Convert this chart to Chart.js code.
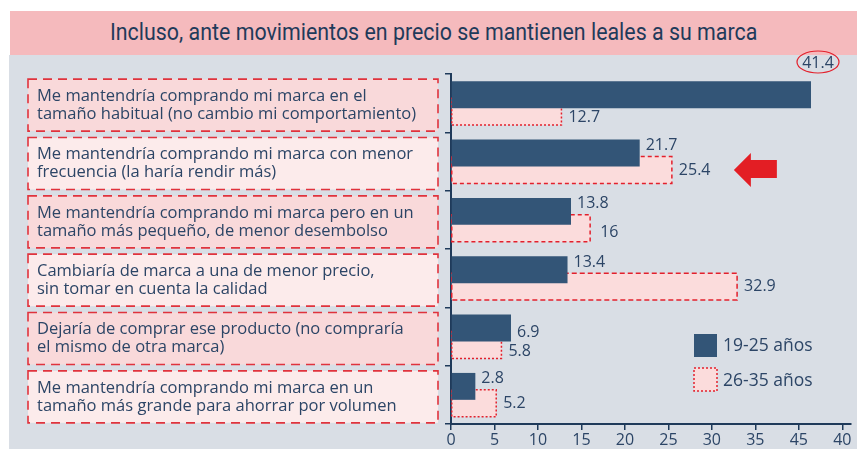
<!DOCTYPE html>
<html>
<head>
<meta charset="utf-8">
<script src="https://cdn.jsdelivr.net/npm/chart.js@4"></script>
<style>
  body { margin: 0; background: #fff; }
  #wrap { position: relative; width: 857px; height: 449px; overflow: hidden; }
  #band { position: absolute; left: 10px; top: 11px; width: 847px; height: 44px; background: #f5babd; }
  #title { position: absolute; left: 10px; top: 11px; width: 847px; height: 44px; line-height: 44px;
           text-align: center; color: #1f3a5a; font-family: "Roboto", sans-serif; font-size: 23px;
           transform: scaleX(0.93); transform-origin: 426px 0; }
  #panel { position: absolute; left: 9px; top: 55px; width: 848px; height: 394px; background: #d9dee5; }
  #chart { position: absolute; left: 0; top: 0; }
</style>
</head>
<body>
<div id="wrap">
  <div id="band"></div>
  <div id="title">Incluso, ante movimientos en precio se mantienen leales a su marca</div>
  <div id="panel"></div>
  <canvas id="chart" width="857" height="449"></canvas>
</div>
<script>
// Data
const categories = [
  ["Me mantendría comprando mi marca en el", "tamaño habitual (no cambio mi comportamiento)"],
  ["Me mantendría comprando mi marca con menor", "frecuencia (la haría rendir más)"],
  ["Me mantendría comprando mi marca pero en un", "tamaño más pequeño, de menor desembolso"],
  ["Cambiaría de marca a una de menor precio,", "sin tomar en cuenta la calidad"],
  ["Dejaría de comprar ese producto (no compraría", "el mismo de otra marca)"],
  ["Me mantendría comprando mi marca en un", "tamaño más grande para ahorrar por volumen"]
];
const young = [41.4, 21.7, 13.8, 13.4, 6.9, 2.8];
const older = [12.7, 25.4, 16, 32.9, 5.8, 5.2];
const seriesNames = ["19-25 años", "26-35 años"];
const tickLabels = ["0", "5", "10", "15", "20", "25", "30", "35", "45", "40"];

const NAVY = "#1f3a5a";
const TEXT = "#2c4566";
const DARK = "#335577";
const PINK = "#fbdcdc";
const RED = "#e3202c";
const FONT = "'Open Sans', Lato, sans-serif";

// dash style of each pink bar outline
const pinkDash = [[2, 2], [4, 3], [4, 3], [5, 3], [2, 2], [2, 2]];

// Label boxes, dashed outlines, value labels, arrow and legend
const boxPlugin = {
  id: "boxes",
  beforeDatasetsDraw(chart) {
    const ctx = chart.ctx;
    const y = chart.scales.y;
    ctx.save();
    categories.forEach((lines, i) => {
      const cy = y.getPixelForValue(i) + 2;
      const top = cy - 26, h = 52;
      ctx.fillStyle = i % 2 === 0 ? "#f9d9da" : "#fcebeb";
      ctx.fillRect(28, top, 410, h);
      ctx.setLineDash([9, 6]);
      ctx.lineWidth = 1.6;
      ctx.strokeStyle = "#e0333d";
      ctx.strokeRect(28, top, 410, h);
      ctx.setLineDash([]);
      ctx.fillStyle = TEXT;
      ctx.font = "16.5px " + FONT;
      ctx.textBaseline = "middle";
      ctx.fillText(lines[0], 37, cy - 9);
      ctx.fillText(lines[1], 37, cy + 9);
    });
    ctx.restore();
  },
  afterDatasetDraw(chart, args) {
    if (args.index !== 1) return;
    const ctx = chart.ctx;
    ctx.save();
    ctx.strokeStyle = RED;
    ctx.lineWidth = 1.5;
    args.meta.data.forEach((el, i) => {
      const p = el.getProps(["x", "y", "base", "height"], true);
      ctx.setLineDash(pinkDash[i]);
      ctx.strokeRect(p.base, p.y - p.height / 2, p.x - p.base, p.height);
    });
    ctx.restore();
  },
  afterDatasetsDraw(chart) {
    const ctx = chart.ctx;
    const area = chart.chartArea;
    ctx.save();
    ctx.font = "16px " + FONT;
    ctx.fillStyle = TEXT;
    ctx.textBaseline = "middle";

    // dark bar values
    chart.getDatasetMeta(0).data.forEach((el, i) => {
      const p = el.getProps(["x", "y", "height"], true);
      if (i === 0) {
        const cx = p.x + 7, cy = area.top - 12;
        ctx.textAlign = "center";
        ctx.fillText(young[i], cx, cy + 1);
        ctx.beginPath();
        ctx.ellipse(cx, cy, 21, 11, 0, 0, Math.PI * 2);
        ctx.strokeStyle = RED;
        ctx.lineWidth = 1.2;
        ctx.stroke();
        ctx.textAlign = "left";
      } else {
        const dy = i === 4 ? 4 : -p.height / 2 + 6;
        ctx.fillText(young[i], p.x + 6, p.y + dy);
      }
    });
    // pink bar values
    chart.getDatasetMeta(1).data.forEach((el, i) => {
      const p = el.getProps(["x", "y"], true);
      const dy = (i === 0 || i === 4) ? 6 : (i === 2 ? 4 : 0);
      ctx.fillText(older[i], p.x + (i === 2 ? 10 : 7), p.y + dy);
    });

    // red arrow next to second category
    const a = chart.getDatasetMeta(1).data[1].getProps(["x", "y"], true);
    const tx = a.x + 62, ty = a.y;
    ctx.fillStyle = "#e31e24";
    ctx.beginPath();
    ctx.moveTo(tx, ty);
    ctx.lineTo(tx + 17, ty - 17);
    ctx.lineTo(tx + 17, ty - 10);
    ctx.lineTo(tx + 43, ty - 10);
    ctx.lineTo(tx + 43, ty + 8);
    ctx.lineTo(tx + 17, ty + 8);
    ctx.lineTo(tx + 17, ty + 17);
    ctx.closePath();
    ctx.fill();

    // legend
    const lx = 694;
    const ly = [334, 368];
    ctx.fillStyle = DARK;
    ctx.fillRect(lx, ly[0], 23, 23);
    ctx.fillStyle = PINK;
    ctx.fillRect(lx, ly[1], 23, 23);
    ctx.setLineDash([2, 2]);
    ctx.strokeStyle = RED;
    ctx.lineWidth = 1.5;
    ctx.strokeRect(lx, ly[1], 23, 23);
    ctx.setLineDash([]);
    ctx.font = "17.5px " + FONT;
    ctx.fillStyle = TEXT;
    ctx.fillText(seriesNames[0], lx + 29, ly[0] + 12);
    ctx.fillText(seriesNames[1], lx + 29, ly[1] + 13);
    ctx.restore();
  }
};

new Chart(document.getElementById("chart"), {
  type: "bar",
  data: {
    labels: categories.map(c => c.join(" ")),
    datasets: [
      { label: seriesNames[0], data: young, backgroundColor: DARK, borderWidth: 0,
        categoryPercentage: 0.58, barPercentage: 1.59 },
      { label: seriesNames[1], data: older, backgroundColor: PINK, borderWidth: 0,
        categoryPercentage: 0.58, barPercentage: 1.59 }
    ]
  },
  options: {
    indexAxis: "y",
    responsive: false,
    animation: false,
    layout: { padding: { top: 74, right: 6, left: 0, bottom: 0 } },
    plugins: { legend: { display: false }, tooltip: { enabled: false } },
    scales: {
      x: {
        min: 0,
        max: 46,
        afterFit: s => { s.height = 25; },
        ticks: {
          stepSize: 5,
          includeBounds: false,
          padding: 1,
          color: TEXT,
          font: { family: FONT, size: 16 },
          callback: (v, i) => tickLabels[i]
        },
        grid: { drawOnChartArea: false, tickLength: 6, color: NAVY, lineWidth: 1.5 },
        border: { color: NAVY, width: 2 }
      },
      y: {
        afterFit: s => { s.width = 451; },
        ticks: { display: false },
        grid: { drawOnChartArea: false, tickLength: 6, color: NAVY, lineWidth: 1.5 },
        border: { color: NAVY, width: 2 }
      }
    }
  },
  plugins: [boxPlugin]
});
</script>
</body>
</html>
